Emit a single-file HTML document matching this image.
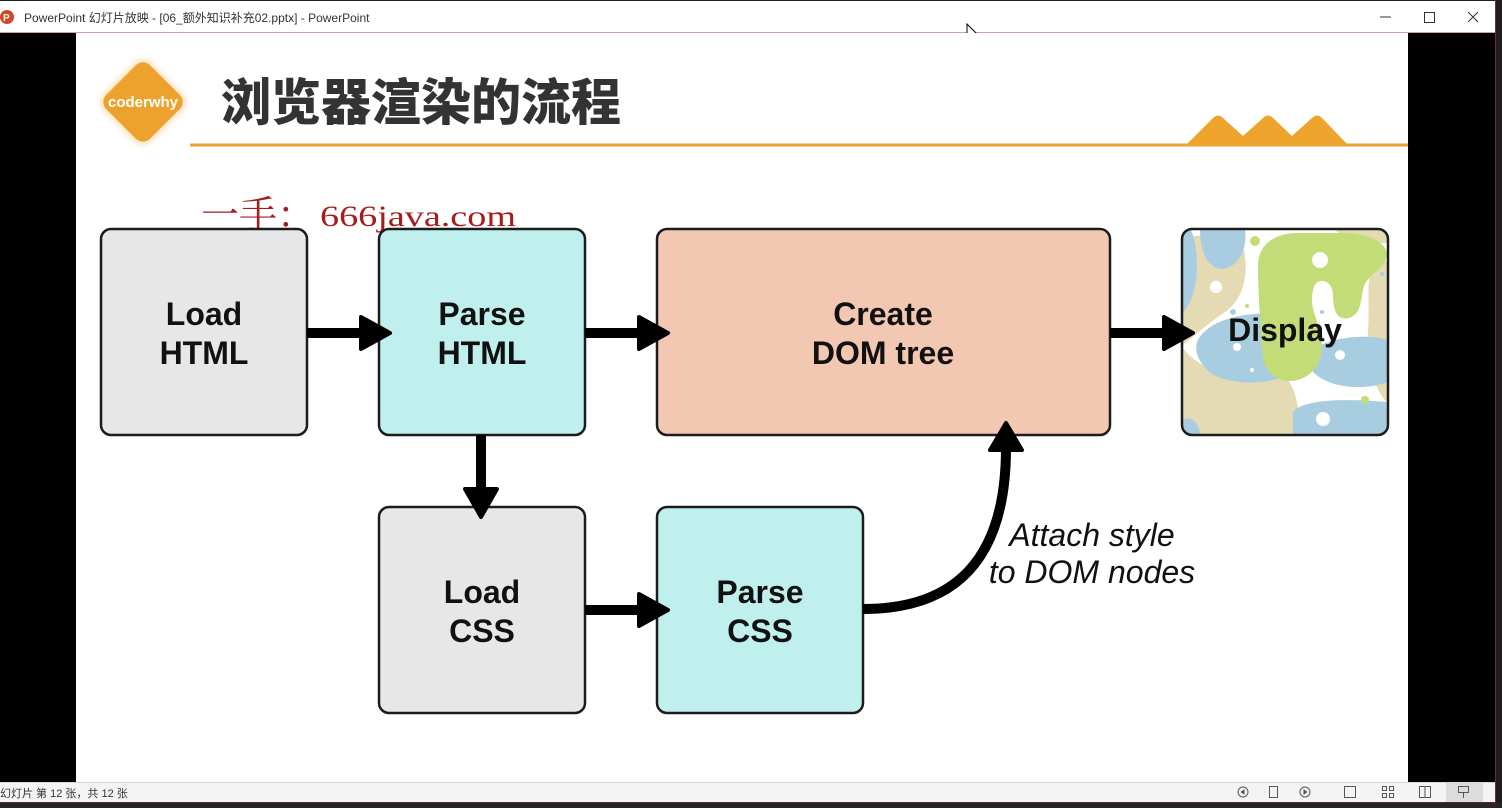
<!DOCTYPE html>
<html><head><meta charset="utf-8">
<style>
html,body{margin:0;padding:0;background:#1e1e1e;}
body{width:1502px;height:808px;overflow:hidden;position:relative;}
svg{display:block;}
</style></head>
<body>
<svg width="1502" height="808" viewBox="0 0 1502 808" xmlns="http://www.w3.org/2000/svg">
  <defs>
    <clipPath id="dispClip"><rect x="1183" y="230" width="204" height="204" rx="9"/></clipPath>
    <filter id="glow" x="-30%" y="-30%" width="160%" height="160%"><feGaussianBlur stdDeviation="3"/></filter>
  </defs>
  <!-- window frame -->
  <rect x="0" y="0" width="1502" height="808" fill="#1e1e1e"/>
  <rect x="0" y="1" width="1496" height="31" fill="#ffffff"/>
  <rect x="0" y="32" width="1496" height="1" fill="#c9a2b2"/>
  <!-- title bar -->
  <circle cx="7" cy="17" r="7" fill="#d24726"/>
  <text x="3" y="21" font-family="Liberation Sans, sans-serif" font-size="10" font-weight="bold" fill="#fff">P</text>
  <text x="24" y="22" font-family="Liberation Sans, 'Noto Sans CJK SC', sans-serif" font-size="12" fill="#333">PowerPoint 幻灯片放映 - [06_额外知识补充02.pptx] - PowerPoint</text>
  <line x1="1380" y1="17" x2="1391" y2="17" stroke="#333" stroke-width="1"/>
  <rect x="1424.5" y="12.5" width="10" height="10" fill="none" stroke="#333" stroke-width="1"/>
  <path d="M1468,12 L1478,22 M1478,12 L1468,22" stroke="#333" stroke-width="1"/>
  <!-- cursor -->
  <path d="M967,24 L967,40 L971,36 L974,42 L976,41 L973,35 L978,35 Z" fill="#fff" stroke="#000" stroke-width="1"/>
  <!-- black sides -->
  <rect x="0" y="33" width="76" height="749" fill="#000"/>
  <rect x="1408" y="33" width="87" height="749" fill="#000"/>
  <rect x="1495" y="0" width="1" height="808" fill="#7a2a2a"/>
  <!-- slide -->
  <rect x="76" y="33" width="1332" height="749" fill="#ffffff"/>

  <!-- logo -->
  <g transform="translate(143,102) rotate(45)">
    <rect x="-34" y="-34" width="68" height="68" rx="12" fill="#fbe3bf" filter="url(#glow)"/>
    <rect x="-31" y="-31" width="62" height="62" rx="10" fill="#eda22d"/>
  </g>
  <text x="143" y="107" text-anchor="middle" font-family="Liberation Sans, sans-serif" font-size="15" font-weight="bold" fill="#fff">coderwhy</text>

  <!-- title -->
  <text x="221" y="120" font-family="'Noto Sans CJK SC', 'WenQuanYi Zen Hei', sans-serif" font-size="50" font-weight="900" fill="#333333">浏览器渲染的流程</text>
  <rect x="190" y="143.5" width="1218" height="3" fill="#eaa234"/>
  <path d="M1186,145 L1213,118 Q1218,113 1223,118 L1243,136 L1263,118 Q1268,113 1273,118 L1292,136 L1312,118 Q1317,113 1322,118 L1348,145 Z" fill="#eea42c"/>

  <!-- watermark -->
  <text x="201" y="228" font-family="'Noto Serif CJK SC', 'Liberation Serif', serif" font-size="38" fill="#a51d1d">一手：</text>
  <text x="320" y="226" font-family="'Liberation Serif', serif" font-size="30" fill="#a51d1d" textLength="196" lengthAdjust="spacingAndGlyphs">666java.com</text>

  <!-- boxes -->
  <g stroke="#1c1c1c" stroke-width="2.5">
    <rect x="101" y="229" width="206" height="206" rx="10" fill="#e7e7e7"/>
    <rect x="379" y="229" width="206" height="206" rx="10" fill="#bff0ed"/>
    <rect x="657" y="229" width="453" height="206" rx="10" fill="#f3c8b3"/>
    <rect x="379" y="507" width="206" height="206" rx="10" fill="#e7e7e7"/>
    <rect x="657" y="507" width="206" height="206" rx="10" fill="#bff0ed"/>
  </g>

  <!-- display box -->
  <g clip-path="url(#dispClip)">
    <rect x="1183" y="230" width="204" height="204" fill="#ffffff"/>
    <!-- beige -->
    <path d="M1183,238 C1195,234 1238,234 1244,250 C1249,275 1243,300 1225,312 C1210,322 1195,335 1183,345 Z" fill="#e4dab4"/>
    <path d="M1183,348 C1200,372 1240,380 1262,372 C1290,365 1300,395 1300,434 L1183,434 Z" fill="#e4dab4"/>
    <path d="M1335,230 L1387,230 L1387,243 C1365,244 1345,239 1335,230 Z" fill="#e4dab4"/>
    <path d="M1372,268 C1380,262 1387,262 1387,260 L1387,402 C1375,392 1366,360 1368,330 C1370,300 1366,282 1372,268 Z" fill="#e4dab4"/>
    <!-- blue -->
    <path d="M1183,230 L1191,230 C1200,252 1200,295 1183,312 Z" fill="#a9cde0"/>
    <path d="M1200,230 L1245,230 C1248,250 1237,268 1222,269 C1207,268 1200,250 1200,230 Z" fill="#a9cde0"/>
    <path d="M1197,342 C1205,322 1240,312 1270,314 C1295,318 1302,345 1292,370 C1278,386 1232,386 1212,374 C1199,364 1194,352 1197,342 Z" fill="#a9cde0"/>
    <path d="M1313,350 C1330,336 1372,334 1387,340 L1387,382 C1370,390 1330,390 1313,372 Z" fill="#a9cde0"/>
    <path d="M1183,420 C1190,416 1198,420 1200,434 L1183,434 Z" fill="#a9cde0"/>
    <!-- green -->
    <path d="M1258,265 C1258,245 1275,232 1300,233 L1345,233 C1370,233 1387,244 1387,254 C1387,268 1370,272 1364,286 C1360,300 1362,314 1349,318 C1337,321 1333,310 1333,296 C1333,286 1328,281 1322,281 C1315,281 1312,288 1312,300 C1312,315 1322,326 1322,346 C1322,368 1306,381 1290,381 C1274,381 1263,370 1262,350 C1260,320 1258,290 1258,265 Z" fill="#c4dc78"/>
    <path d="M1293,412 C1302,400 1340,398 1387,402 L1387,434 L1293,434 Z" fill="#a9cde0"/>
    <!-- dots -->
    <g fill="#ffffff">
      <circle cx="1216" cy="287" r="6"/>
      <circle cx="1320" cy="260" r="8"/>
      <circle cx="1237" cy="347" r="4"/>
      <circle cx="1340" cy="355" r="5"/>
      <circle cx="1323" cy="419" r="7"/>
      <circle cx="1252" cy="370" r="2"/>
    </g>
    <circle cx="1255" cy="241" r="5" fill="#c4dc78"/>
    <circle cx="1365" cy="400" r="4" fill="#c4dc78"/>
    <circle cx="1247" cy="306" r="2" fill="#c4dc78"/>
    <g fill="#a9cde0">
      <circle cx="1233" cy="312" r="3"/>
      <circle cx="1382" cy="274" r="2"/>
      <circle cx="1322" cy="312" r="2"/>
      <circle cx="1375" cy="415" r="2"/>
    </g>
  </g>
  <rect x="1182" y="229" width="206" height="206" rx="10" fill="none" stroke="#1c1c1c" stroke-width="2.5"/>

  <!-- box labels -->
  <g font-family="'Liberation Sans', sans-serif" font-size="32" font-weight="bold" fill="#111" text-anchor="middle">
    <text x="204" y="325">Load</text>
    <text x="204" y="364">HTML</text>
    <text x="482" y="325">Parse</text>
    <text x="482" y="364">HTML</text>
    <text x="883" y="325">Create</text>
    <text x="883" y="364">DOM tree</text>
    <text x="1285" y="341">Display</text>
    <text x="482" y="603">Load</text>
    <text x="482" y="642">CSS</text>
    <text x="760" y="603">Parse</text>
    <text x="760" y="642">CSS</text>
  </g>

  <!-- arrows -->
  <g fill="#000" stroke="#000" stroke-width="4" stroke-linejoin="round">
    <rect x="307" y="328" width="56" height="10" stroke="none"/>
    <polygon points="361,317 390,333 361,349"/>
    <rect x="585" y="328" width="56" height="10" stroke="none"/>
    <polygon points="639,317 668,333 639,349"/>
    <rect x="1110" y="328" width="56" height="10" stroke="none"/>
    <polygon points="1164,317 1193,333 1164,349"/>
    <rect x="476" y="435" width="10" height="56" stroke="none"/>
    <polygon points="465,489 481,517 497,489"/>
    <rect x="585" y="605" width="56" height="10" stroke="none"/>
    <polygon points="639,594 668,610 639,626"/>
    <polygon points="990,450 1006,423 1022,450"/>
  </g>
  <path d="M863,609 C955,609 1006,560 1006,448" fill="none" stroke="#000" stroke-width="10"/>

  <!-- curve label -->
  <g font-family="'Liberation Sans', sans-serif" font-size="32" font-style="italic" fill="#111" text-anchor="middle">
    <text x="1092" y="546">Attach style</text>
    <text x="1092" y="583">to DOM nodes</text>
  </g>

  <!-- status bar -->
  <rect x="0" y="782" width="1495" height="20" fill="#f4f4f4"/>
  <rect x="0" y="782" width="1495" height="1" fill="#d8d8d8"/>
  <text x="0" y="797" font-family="'Liberation Sans', 'Noto Sans CJK SC', sans-serif" font-size="11" fill="#333">幻灯片 第 12 张，共 12 张</text>
  <rect x="1446" y="783" width="37" height="19" fill="#dcdcdc"/>
  <g fill="none" stroke="#555" stroke-width="1">
    <circle cx="1243" cy="792" r="5"/>
    <rect x="1269.5" y="786.5" width="8" height="11"/>
    <circle cx="1305" cy="792" r="5"/>
    <rect x="1344.5" y="786.5" width="11" height="11"/>
    <rect x="1382.5" y="786.5" width="4" height="4"/>
    <rect x="1389.5" y="786.5" width="4" height="4"/>
    <rect x="1382.5" y="793.5" width="4" height="4"/>
    <rect x="1389.5" y="793.5" width="4" height="4"/>
    <rect x="1419.5" y="786.5" width="11" height="11"/>
    <line x1="1425" y1="786" x2="1425" y2="798"/>
    <rect x="1458.5" y="786.5" width="10" height="6"/>
    <line x1="1463.5" y1="793" x2="1463.5" y2="798"/>
  </g>
  <polygon points="1244.5,789 1244.5,795 1240.5,792" fill="#555"/>
  <polygon points="1303.5,789 1303.5,795 1307.5,792" fill="#555"/>
  <rect x="0" y="802" width="1496" height="1" fill="#6a2222"/>
  <rect x="0" y="803" width="1502" height="5" fill="#252525"/>
</svg>
</body></html>
